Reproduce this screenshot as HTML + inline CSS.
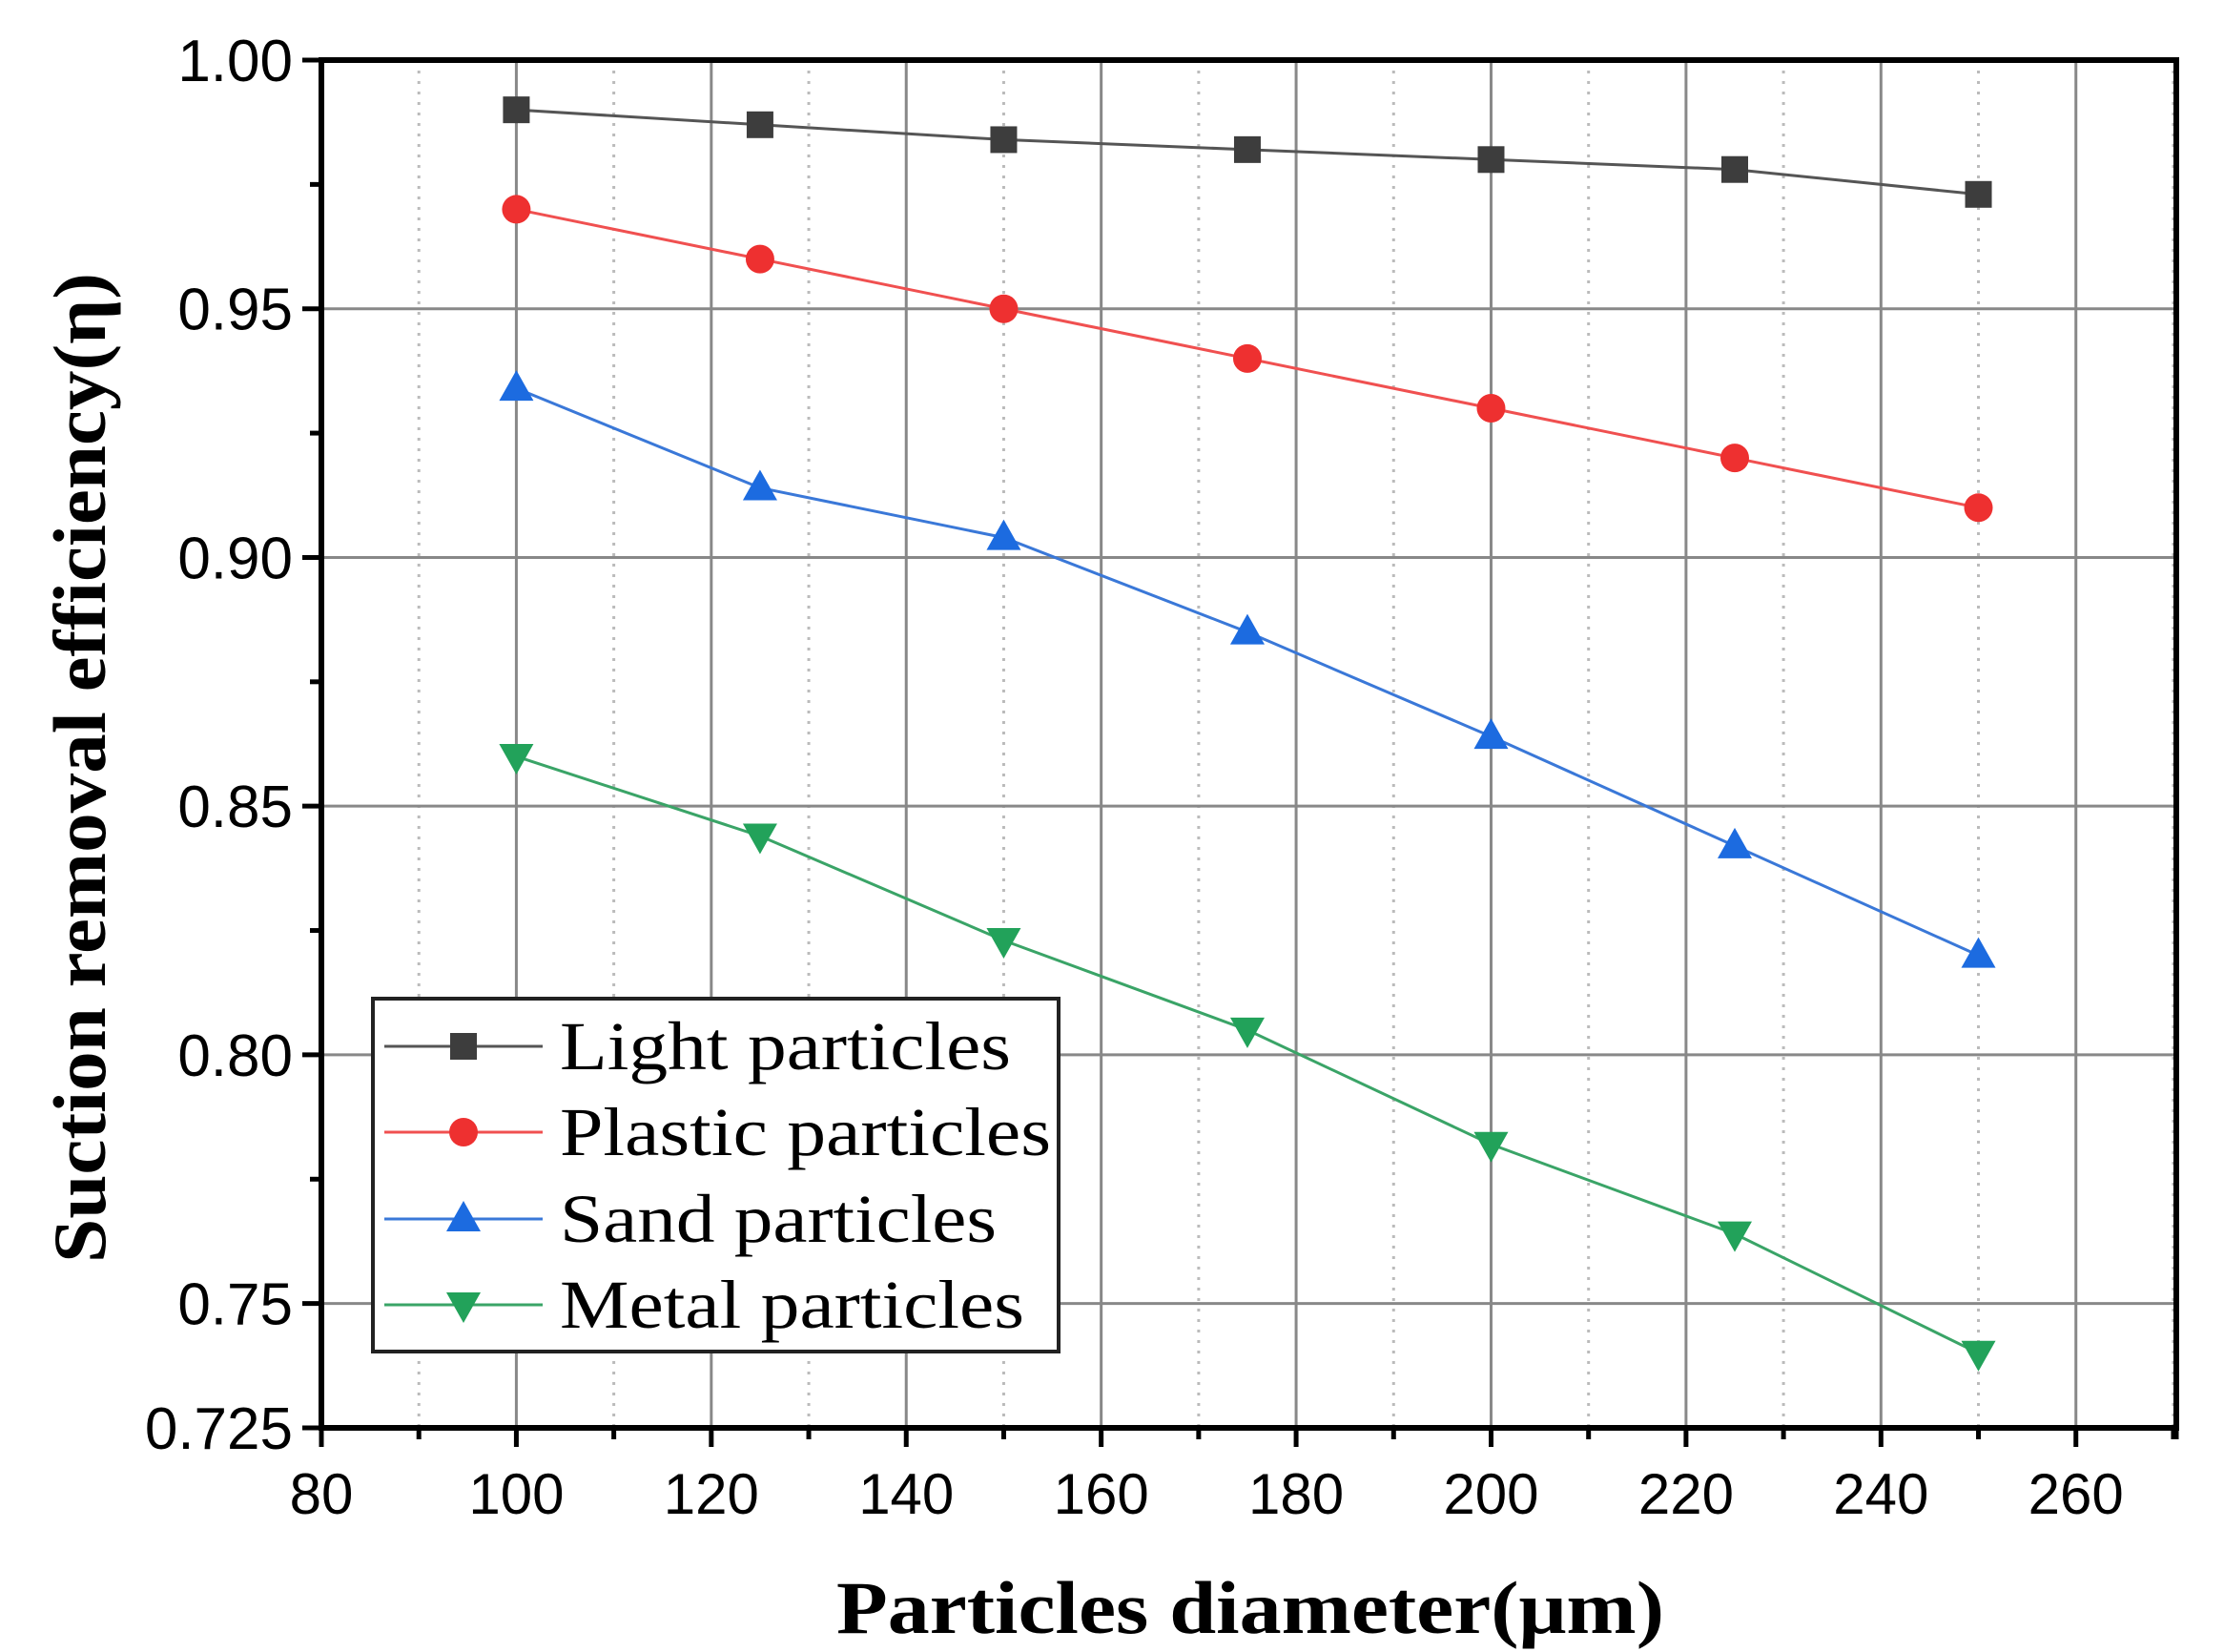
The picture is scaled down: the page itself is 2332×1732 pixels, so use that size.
<!DOCTYPE html>
<html><head><meta charset="utf-8"><style>
html,body{margin:0;padding:0;background:#fff;}
svg{display:block;}
</style></head><body>
<svg id="chart" width="2332" height="1732" viewBox="0 0 2332 1732" xmlns="http://www.w3.org/2000/svg">
<g id="grid"></g>
<g id="series"></g>
<g id="axes"></g>
<g id="legend"></g>
<text x="1311" y="1712" text-anchor="middle" font-family="Liberation Serif, serif" font-weight="bold" font-size="78" textLength="868" lengthAdjust="spacingAndGlyphs">Particles diameter(μm)</text>
<text transform="translate(110,805) rotate(-90)" text-anchor="middle" font-family="Liberation Serif, serif" font-weight="bold" font-size="78" textLength="1038" lengthAdjust="spacingAndGlyphs">Suction removal efficiency(η)</text>
</svg>
<script>
const categories = [100, 125, 150, 175, 200, 225, 250];
const lightValues = [0.990, 0.987, 0.984, 0.982, 0.980, 0.978, 0.973];
const plasticValues = [0.970, 0.960, 0.950, 0.940, 0.930, 0.920, 0.910];
const sandValues = [0.934, 0.914, 0.904, 0.885, 0.864, 0.842, 0.820];
const metalValues = [0.860, 0.844, 0.823, 0.805, 0.782, 0.764, 0.740];
const xTickLabels = ["80","100","120","140","160","180","200","220","240","260"];
const yTickLabels = ["0.725","0.75","0.80","0.85","0.90","0.95","1.00"];
const seriesNames = ["Light particles","Plastic particles","Sand particles","Metal particles"];

const NS = "http://www.w3.org/2000/svg";
const L = 337, R = 2282, T = 63, B = 1497;
const XMIN = 80, XMAX = 270.3, YMIN = 0.725, YMAX = 1.0;
function xs(v){ return L + (v - XMIN) / (XMAX - XMIN) * (R - L); }
function ys(v){ return B - (v - YMIN) / (YMAX - YMIN) * (B - T); }
function mk(tag, attrs, parent){
  const e = document.createElementNS(NS, tag);
  for (const k in attrs) e.setAttribute(k, attrs[k]);
  parent.appendChild(e); return e;
}
const grid = document.getElementById('grid');
const axes = document.getElementById('axes');
const series = document.getElementById('series');
const legend = document.getElementById('legend');

for (let v = 90; v < XMAX; v += 20) {
  const ln = mk('line', {x1: xs(v), x2: xs(v), y1: T, y2: B, stroke: '#bbb', 'stroke-width': 3, 'stroke-dasharray': '3 8'}, grid);
  
  
}
xTickLabels.forEach(t => {
  const v = +t;
  if (v > XMIN) {
    const ln = mk('line', {x1: xs(v), x2: xs(v), y1: T, y2: B, stroke: '#888', 'stroke-width': 3}, grid);
    
    
  }
});
yTickLabels.forEach(t => {
  const v = +t;
  if (v > YMIN && v < YMAX) {
    const ln = mk('line', {x1: L, x2: R, y1: ys(v), y2: ys(v), stroke: '#888', 'stroke-width': 3}, grid);
    
    
  }
});

const frame = mk('rect', {x: L, y: T, width: R - L, height: B - T, fill: 'none', stroke: '#000', 'stroke-width': 6}, axes);



xTickLabels.forEach(t => {
  const v = +t;
  const tk = mk('line', {x1: xs(v), x2: xs(v), y1: B, y2: B + 20, stroke: '#000', 'stroke-width': 5}, axes);
  
  
  const tx = mk('text', {x: xs(v), y: B + 90, 'text-anchor': 'middle', 'font-family': 'Liberation Sans, sans-serif', 'font-size': 60}, axes);
  tx.textContent = t;
  
  
});
for (let v = 90; v < XMAX; v += 20) {
  const tk = mk('line', {x1: xs(v), x2: xs(v), y1: B, y2: B + 12, stroke: '#000', 'stroke-width': 5}, axes);
  
  
}
const rt = mk('line', {x1: R, x2: R, y1: B, y2: B + 12, stroke: '#000', 'stroke-width': 5}, axes);


yTickLabels.forEach(t => {
  const v = +t;
  const tk = mk('line', {x1: L - 20, x2: L, y1: ys(v), y2: ys(v), stroke: '#000', 'stroke-width': 5}, axes);
  
  
  const tx = mk('text', {x: L - 30, y: ys(v) + 22, 'text-anchor': 'end', 'font-family': 'Liberation Sans, sans-serif', 'font-size': 62}, axes);
  tx.textContent = t;
  
  
});
for (let v = 0.775; v < YMAX; v += 0.05) {
  const tk = mk('line', {x1: L - 12, x2: L, y1: ys(v), y2: ys(v), stroke: '#000', 'stroke-width': 5}, axes);
  
  
}

const styles = [
  {vals: lightValues, line: '#555', fill: '#3d3d3d', shape: 'square'},
  {vals: plasticValues, line: '#f05050', fill: '#ee3030', shape: 'circle'},
  {vals: sandValues, line: '#3a78d8', fill: '#1c6be0', shape: 'up'},
  {vals: metalValues, line: '#3aa467', fill: '#22a25a', shape: 'down'}
];
function marker(shape, cx, cy, fill, parent){
  let e;
  if (shape === 'square') e = mk('rect', {x: cx - 14, y: cy - 14, width: 28, height: 28, fill: fill}, parent);
  else if (shape === 'circle') e = mk('circle', {cx: cx, cy: cy, r: 15, fill: fill}, parent);
  else if (shape === 'up') e = mk('polygon', {points: `${cx},${cy-19} ${cx+18},${cy+13} ${cx-18},${cy+13}`, fill: fill}, parent);
  else e = mk('polygon', {points: `${cx},${cy+19} ${cx+18},${cy-13} ${cx-18},${cy-13}`, fill: fill}, parent);
  return e;
}
styles.forEach((s, i) => {
  const g = mk('g', {}, series);
  
  
  const pts = s.vals.map((v, j) => xs(categories[j]) + ',' + ys(v)).join(' ');
  const pl = mk('polyline', {points: pts, fill: 'none', stroke: s.line, 'stroke-width': 3}, g);
  
  
  s.vals.forEach((v, j) => {
    const m = marker(s.shape, xs(categories[j]), ys(v), s.fill, g);
    
    
  });
});

const lb = mk('rect', {x: 391, y: 1047, width: 719, height: 370, fill: '#fff', stroke: '#222', 'stroke-width': 4}, legend);


const ly = [1097, 1187, 1278, 1368];
const lw = [473, 515, 458, 487];
styles.forEach((s, i) => {
  const g = mk('g', {}, legend);
  
  
  mk('line', {x1: 403, x2: 569, y1: ly[i], y2: ly[i], stroke: s.line, 'stroke-width': 3}, g);
  marker(s.shape, 486, ly[i], s.fill, g);
  const t = mk('text', {x: 587, y: ly[i] + 24, 'font-family': 'Liberation Serif, serif', 'font-size': 72, textLength: lw[i], lengthAdjust: 'spacingAndGlyphs'}, g);
  t.textContent = seriesNames[i];
  
  
});
</script>
</body></html>
